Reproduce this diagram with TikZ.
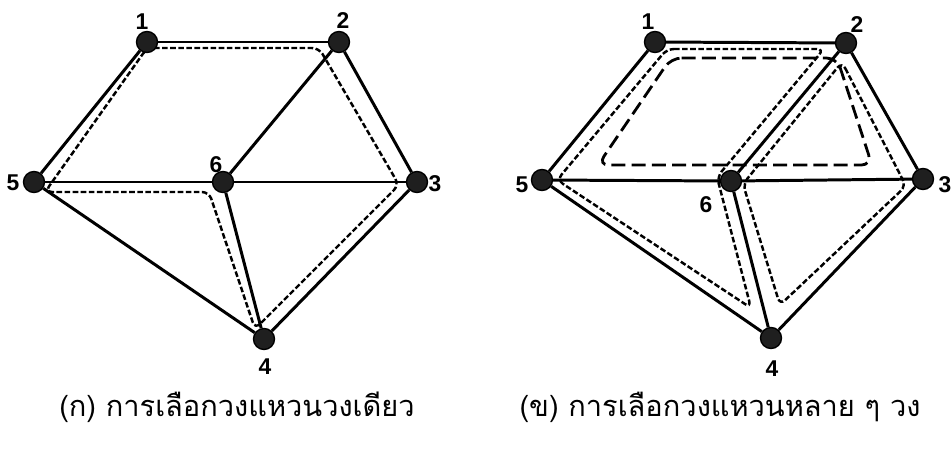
\documentclass[tikz,border=0pt]{standalone}
\usepackage{fontspec}
\setmainfont{Liberation Sans}
\newfontfamily\thaifont[Script=Thai]{Loma}
\usepackage{tikz}
\usetikzlibrary{positioning}

\begin{document}
\begin{tikzpicture}[
      x=0.02cm, y=-0.02cm,
      vertex/.style={circle, draw, line width=0.8pt, fill=black!88, minimum size=0.42cm, inner sep=0pt},
      edge/.style={line width=1.7pt},
      ring/.style={line width=1.4pt, dash pattern=on 3.2pt off 1.4pt, rounded corners=4pt},
      bigring/.style={line width=1.6pt, dash pattern=on 8pt off 3.5pt, rounded corners=6pt},
      num/.style={font=\bfseries\fontsize{13}{15}\selectfont},
      caption/.style={font=\thaifont\fontsize{16.5}{19}\selectfont}
    ]
      \useasboundingbox (0,0) rectangle (951,457);

      % (a) one ring
      \draw[ring] (147,48) -- (319,48) -- (399,185) -- (255,329) -- (209,192) -- (45,192) -- cycle;

      % (b) several rings
      \draw[ring] (667,49) -- (824,49) -- (717,177) -- (751,308) -- (557,180) -- cycle;
      \draw[ring] (842,62) -- (906,186) -- (780,305) -- (743,184) -- cycle;
      \draw[bigring] (671,58) -- (837,58) -- (872,165) -- (598,165) -- cycle;

      % vertices
      \node[vertex] (a1) at (147,42) {};
      \node[vertex] (a2) at (339,42) {};
      \node[vertex] (a3) at (417,182) {};
      \node[vertex] (a4) at (264,339) {};
      \node[vertex] (a5) at (34,182) {};
      \node[vertex] (a6) at (223,182) {};

      \node[vertex] (b1) at (655,42) {};
      \node[vertex] (b2) at (846,43) {};
      \node[vertex] (b3) at (923,179) {};
      \node[vertex] (b4) at (771,338) {};
      \node[vertex] (b5) at (542,180) {};
      \node[vertex] (b6) at (731,181) {};

      \foreach \p in {a,b}
        \foreach \u/\v in {1/2,2/3,3/4,4/5,5/1,5/6,6/3,6/2,6/4}
          \draw[edge] (\p\u) -- (\p\v);

      % numbers
      \node[num] (la1) at (142,22) {1};
      \node[num] (la2) at (343,21) {2};
      \node[num] (la3) at (435,184) {3};
      \node[num] (la4) at (265,367) {4};
      \node[num] (la5) at (13,183) {5};
      \node[num] (la6) at (216,165) {6};

      \node[num] (lb1) at (648,22) {1};
      \node[num] (lb2) at (857,25) {2};
      \node[num] (lb3) at (945,185) {3};
      \node[num] (lb4) at (772,369) {4};
      \node[num] (lb5) at (522,185) {5};
      \node[num] (lb6) at (706,205) {6};

      \node[caption] (capa) at (237,407) {(ก) การเลือกวงแหวนวงเดียว};
      \node[caption] (capb) at (720,407) {(ข) การเลือกวงแหวนหลาย ๆ วง};
    \end{tikzpicture}
\end{document}
